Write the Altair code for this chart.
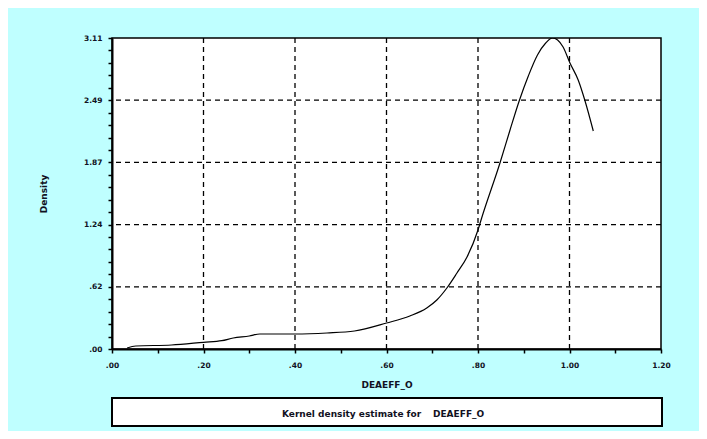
import altair as alt
import pandas as pd
import numpy as np

# Curve values
eff = [0.033, 0.052, 0.13, 0.20, 0.24, 0.265, 0.30, 0.323, 0.40, 0.47, 0.53, 0.60,
       0.651, 0.688, 0.71, 0.732, 0.754, 0.776, 0.80, 0.808, 0.848, 0.870, 0.89,
       0.91, 0.93, 0.948, 0.963, 0.974, 0.986, 1.001, 1.019, 1.034, 1.052]
density = [0.01, 0.03, 0.04, 0.067, 0.083, 0.11, 0.13, 0.15, 0.15, 0.16, 0.18, 0.26,
           0.33, 0.41, 0.49, 0.61, 0.76, 0.92, 1.19, 1.31, 1.86, 2.19, 2.48,
           2.73, 2.94, 3.06, 3.11, 3.09, 3.02, 2.86, 2.69, 2.48, 2.18]

x_major = [0.0, 0.2, 0.4, 0.6, 0.8, 1.0, 1.2]
y_major = [0.0, 0.622, 1.244, 1.866, 2.488, 3.11]
x_grid = [0.2, 0.4, 0.6, 0.8, 1.0]
y_grid = [0.622, 1.244, 1.866, 2.488]
legend_text = "Kernel density estimate for"
legend_var = "DEAEFF_O"

FONT = "DejaVu Sans"
INK = "#111122"

x_ticks = [round(v, 2) for v in np.arange(0, 1.2001, 0.1)]
y_step = y_major[1] / 5
y_ticks = [round(i * y_step, 4) for i in range(26)]

curve = pd.DataFrame({"eff": eff, "density": density})
gx = pd.DataFrame({"gx": x_grid})
gy = pd.DataFrame({"gy": y_grid})

xscale = alt.Scale(domain=[0, 1.2], nice=False, zero=False)
yscale = alt.Scale(domain=[0, 3.11], nice=False, zero=False)

fmt = "(datum.value < 1 ? substring(format(datum.value, '.2f'), 1) : format(datum.value, '.2f'))"

xaxis = alt.Axis(values=x_ticks, grid=False, title="DEAEFF_O",
                 labelExpr="round(datum.value*10) % 2 == 0 ? " + fmt + " : ''",
                 tickSize=4, labelPadding=8, titleY=31, labelFlush=False, labelOverlap=False)
yaxis = alt.Axis(values=y_ticks, grid=False, title="Density",
                 labelExpr="round(datum.value/" + str(y_step) + ") % 5 == 0 ? " + fmt + " : ''",
                 tickSize=4, labelPadding=6, titleX=-64, labelFlush=False, labelOverlap=False)

line = alt.Chart(curve).mark_line(color="black", strokeWidth=1.2, clip=True,
                                  interpolate="monotone").encode(
    x=alt.X("eff:Q", scale=xscale, axis=xaxis),
    y=alt.Y("density:Q", scale=yscale, axis=yaxis),
)

vrules = alt.Chart(gx).mark_rule(color="black", strokeWidth=1.3, strokeDash=[5, 4]).encode(
    x=alt.X("gx:Q", scale=xscale, axis=xaxis),
)
hrules = alt.Chart(gy).mark_rule(color="black", strokeWidth=1.3, strokeDash=[5, 4]).encode(
    y=alt.Y("gy:Q", scale=yscale, axis=yaxis),
)

box = alt.Chart(pd.DataFrame({"a": [0]})).mark_rect(
    fill="white", stroke="black", strokeWidth=2, clip=False
).encode(x=alt.value(0), x2=alt.value(550), y=alt.value(360), y2=alt.value(388))

t1 = alt.Chart(pd.DataFrame({"t": [legend_text]})).mark_text(
    align="left", baseline="middle", fontSize=9, fontWeight="bold", font=FONT, color=INK
).encode(x=alt.value(170), y=alt.value(376), text="t:N")
t2 = alt.Chart(pd.DataFrame({"t": [legend_var]})).mark_text(
    align="left", baseline="middle", fontSize=9, fontWeight="bold", font=FONT, color=INK
).encode(x=alt.value(321), y=alt.value(376), text="t:N")

chart = alt.layer(vrules, hrules, line, box, t1, t2).properties(
    width=549, height=311,
    padding={"left": 104, "top": 30, "right": 38, "bottom": 82},
    autosize=alt.AutoSizeParams(type="none"),
    background="#BFFFFF",
).configure_view(
    stroke="black", strokeWidth=1.5, fill="white"
).configure_axis(
    domainColor="black", domainWidth=2, tickColor="black", tickWidth=1.5,
    labelColor=INK, labelFont=FONT, labelFontSize=7.5, labelFontWeight="bold",
    titleColor=INK, titleFont=FONT, titleFontSize=9, titleFontWeight="bold",
)

chart.save("out.html", embed_options={"renderer": "svg", "actions": False})
